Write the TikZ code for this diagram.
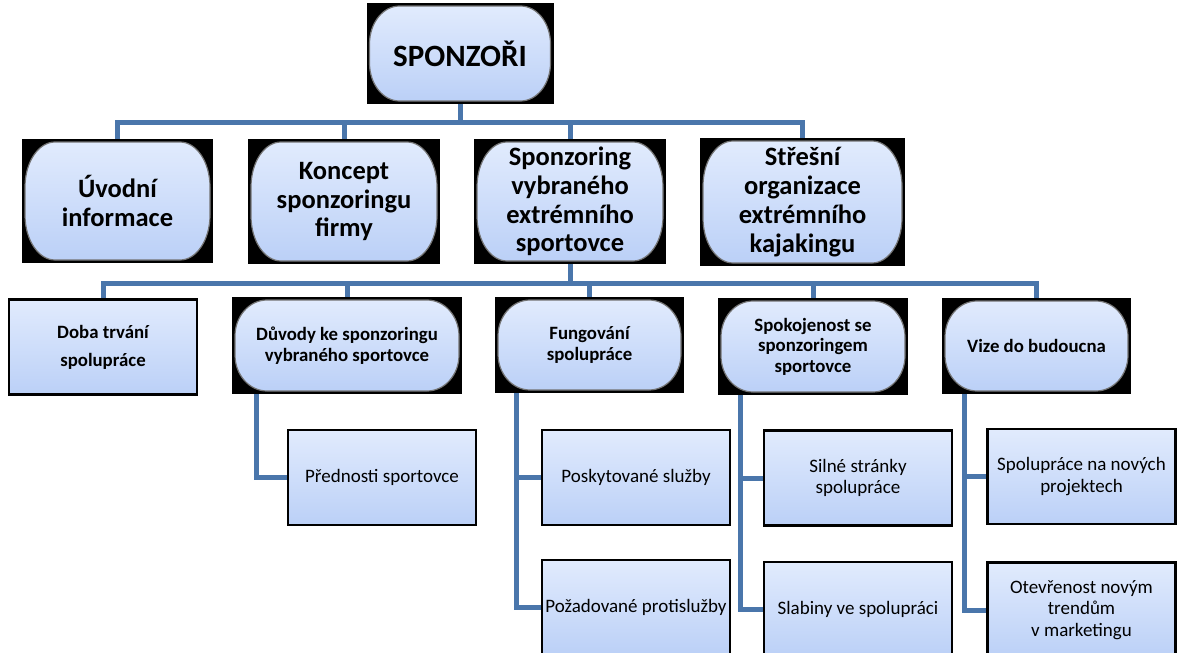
\documentclass[tikz,border=0pt]{standalone}
\usepackage{fontspec}
\setmainfont{Carlito}
\usetikzlibrary{backgrounds}
\definecolor{linec}{HTML}{4A76AB}
\definecolor{filltop}{HTML}{E1EBFD}
\definecolor{fillbot}{HTML}{BBD0F7}
\newcommand\pillshape[2]{%
  \path (path picture bounding box.south west) coordinate (pSW)
        (path picture bounding box.south east) coordinate (pSE)
        (path picture bounding box.north east) coordinate (pNE)
        (path picture bounding box.north west) coordinate (pNW);
  \shade[top color=filltop, bottom color=fillbot, draw=black!55, line width=1.2pt]
    ([shift={(3pt,3pt+#2)}]pSW) arc[start angle=180, end angle=270, x radius=#1, y radius=#2]
    -- ([shift={(-3pt-#1,3pt)}]pSE) arc[start angle=270, end angle=360, x radius=#1, y radius=#2]
    -- ([shift={(-3pt,-3pt-#2)}]pNE) arc[start angle=0, end angle=90, x radius=#1, y radius=#2]
    -- ([shift={(3pt+#1,-3pt)}]pNW) arc[start angle=90, end angle=180, x radius=#1, y radius=#2]
    -- cycle;}
\tikzset{
  conn/.style={draw=linec, line width=5pt},
  pillbox/.style={rectangle, fill=black, inner sep=0pt, align=center},
  pilltop/.style={pillbox, path picture={\pillshape{30pt}{38pt}}},
  pillone/.style={pillbox, path picture={\pillshape{30pt}{45pt}}},
  pilltwo/.style={pillbox, path picture={\pillshape{32pt}{36pt}}},
  sqbox/.style={rectangle, draw=black, line width=2.5pt, top color=filltop, bottom color=fillbot,
    inner sep=0pt, align=center, minimum width=188pt, minimum height=95pt,
    font=\fontsize{19}{21.5}\selectfont},
  topfont/.style={font=\fontsize{31}{36}\selectfont\bfseries},
  lonefont/.style={font=\fontsize{26.5}{28.8}\selectfont\bfseries},
  ltwofont/.style={font=\fontsize{18.8}{20.5}\selectfont\bfseries},
}
\begin{document}
\begin{tikzpicture}[x=1pt,y=-1pt]
\useasboundingbox (0,0) rectangle (1178,653);
% top
\node[pilltop, topfont, minimum width=187pt, minimum height=101pt] (top) at (460,53.5) {SPONZOŘI};
% level 1
\node[pillone, lonefont, minimum width=191pt, minimum height=124pt] (uvod) at (117.5,201) {Úvodní\\informace};
\node[pillone, lonefont, minimum width=192pt, minimum height=125pt] (koncept) at (344,201.5) {Koncept\\sponzoringu\\firmy};
\node[pillone, lonefont, minimum width=192pt, minimum height=125pt] (sponz) at (570,201.5) {Sponzoring\\vybraného\\extrémního\\sportovce};
\node[pillone, lonefont, minimum width=205pt, minimum height=128pt] (strecha) at (802.5,202) {Střešní\\organizace\\extrémního\\kajakingu};
% level 2
\node[sqbox, font=\fontsize{18.8}{28}\selectfont\bfseries] (doba) at (103,347) {Doba trvání\\spolupráce};
\node[pilltwo, ltwofont, minimum width=230pt, minimum height=97pt] (duvody) at (347,345.5) {Důvody ke sponzoringu\\vybraného sportovce};
\node[pilltwo, ltwofont, minimum width=189pt, minimum height=96pt] (fung) at (589.5,345) {Fungování\\spolupráce};
\node[pilltwo, ltwofont, minimum width=190pt, minimum height=97pt] (spok) at (813,346.5) {Spokojenost se\\sponzoringem\\sportovce};
\node[pilltwo, ltwofont, minimum width=189pt, minimum height=96pt] (vize) at (1036.5,346) {Vize do budoucna};
% level 3
\node[sqbox] (pred) at (382,477.5) {Přednosti sportovce};
\node[sqbox] (posk) at (636,477.5) {Poskytované služby};
\node[sqbox] (poz) at (636,607.5) {Požadované protislužby};
\node[sqbox] (siln) at (858,478) {Silné stránky\\spolupráce};
\node[sqbox] (slab) at (858,609.5) {Slabiny ve spolupráci};
\node[sqbox] (spol) at (1081.5,476.5) {Spolupráce na nových\\projektech};
\node[sqbox] (otev) at (1081.5,610) {Otevřenost novým\\trendům\\v marketingu};
% bars
\coordinate (bar1) at (0,122);
\coordinate (bar2) at (0,283);
\begin{scope}[on background layer]
\fill[white] (0,0) rectangle (1178,653);
\draw[conn] (top.south) -- (top.south |- bar1);
\draw[conn] (uvod.north) |- (strecha.north |- bar1) -- (strecha.north);
\draw[conn] (koncept.north) -- (koncept.north |- bar1);
\draw[conn] (sponz.north) -- (sponz.north |- bar1);
\draw[conn] (sponz.south) -- (sponz.south |- bar2);
\draw[conn] (doba.north) |- (vize.north |- bar2) -- (vize.north);
\draw[conn] (duvody.north) -- (duvody.north |- bar2);
\draw[conn] (fung.north) -- (fung.north |- bar2);
\draw[conn] (spok.north) -- (spok.north |- bar2);
\draw[conn] ([xshift=25pt]duvody.south west) |- (pred.west);
\draw[conn] ([xshift=22pt]fung.south west) |- (posk.west);
\draw[conn] ([xshift=22pt]fung.south west) |- (poz.west);
\draw[conn] ([xshift=23pt]spok.south west) |- (siln.west);
\draw[conn] ([xshift=23pt]spok.south west) |- (slab.west);
\draw[conn] ([xshift=23pt]vize.south west) |- (spol.west);
\draw[conn] ([xshift=23pt]vize.south west) |- (otev.west);
\end{scope}
\end{tikzpicture}
\end{document}
